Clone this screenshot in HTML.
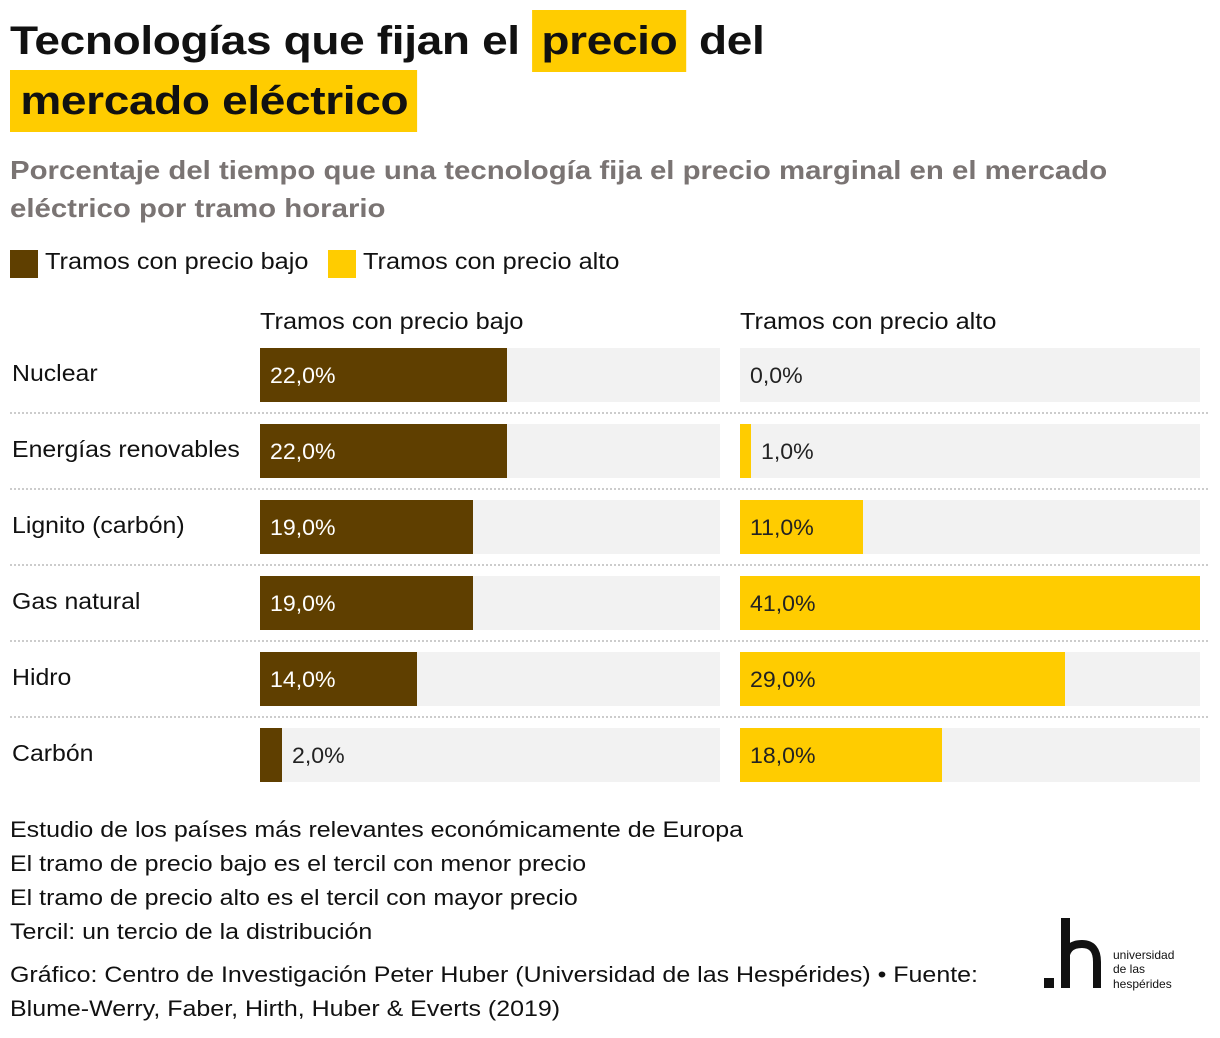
<!DOCTYPE html>
<html><head><meta charset="utf-8"><style>
body{margin:0;width:1220px;height:1038px;background:#fff;font-family:"Liberation Sans",sans-serif;color:#111;position:relative;overflow:hidden}
.a{position:absolute;white-space:nowrap;transform-origin:0 0}
.hl{background:#ffcc00;padding:0 8px;display:inline-block;line-height:62px}
.t{font-weight:bold;font-size:40px;letter-spacing:-0.3px;transform:scaleX(1.15)}
.sub{font-weight:bold;font-size:26px;color:#7a7473;line-height:38px;transform:scaleX(1.13)}
.lab{font-size:23px;transform:scaleX(1.1)}
.note{font-size:22.5px;line-height:34px;transform:scaleX(1.11)}
</style></head><body>
<div class="a t" style="left:10px;top:10px;line-height:62px">Tecnologías que fijan el <span class="hl">precio</span> del</div>
<div class="a t" style="left:10px;top:70px;line-height:62px"><span class="hl" style="padding:0 8px 0 9px">mercado eléctrico</span></div>
<div class="a sub" style="left:10px;top:151px">Porcentaje del tiempo que una tecnología fija el precio marginal en el mercado<br>eléctrico por tramo horario</div>
<div class="a" style="left:10px;top:250px;width:28px;height:28px;background:#5f3f00"></div>
<div class="a lab" style="left:45px;top:248px">Tramos con precio bajo</div>
<div class="a" style="left:328px;top:250px;width:28px;height:28px;background:#ffcc00"></div>
<div class="a lab" style="left:363px;top:248px">Tramos con precio alto</div>
<div class="a lab" style="left:260px;top:308px">Tramos con precio bajo</div>
<div class="a lab" style="left:740px;top:308px">Tramos con precio alto</div>
<div id="chart"></div>
<div class="a note" style="left:10px;top:813px">Estudio de los países más relevantes económicamente de Europa<br>El tramo de precio bajo es el tercil con menor precio<br>El tramo de precio alto es el tercil con mayor precio<br>Tercil: un tercio de la distribución</div>
<div class="a note" style="left:10px;top:958px">Gráfico: Centro de Investigación Peter Huber (Universidad de las Hespérides) • Fuente:<br>Blume-Werry, Faber, Hirth, Huber &amp; Everts (2019)</div>
<svg class="a" style="left:1030px;top:900px" width="180" height="110">
<rect x="14" y="78" width="10" height="10" fill="#111"/>
<rect x="31" y="18" width="9" height="70" fill="#111"/>
<path d="M35 62 Q35 44 52 44 Q67 44 67 62 L67 88" stroke="#111" stroke-width="8" fill="none"/>
<text x="83" y="59" font-size="12" font-family="Liberation Sans" fill="#111">universidad</text>
<text x="83" y="73" font-size="12" font-family="Liberation Sans" fill="#111">de las</text>
<text x="83" y="88" font-size="12" font-family="Liberation Sans" fill="#111">hespérides</text>
</svg>
<script>
const categories=["Nuclear","Energías renovables","Lignito (carbón)","Gas natural","Hidro","Carbón"];
const lowValues=[22,22,19,19,14,2];
const highValues=[0,1,11,41,29,18];
const maxV=41;
const root=document.getElementById('chart');
function x(v){return v/maxV*460;}
function fmt(v){return v.toFixed(1).replace('.',',')+'%';}
function mk(style,name,text){const d=document.createElement('div');d.className='a';d.style.cssText=style;if(text!==undefined)d.textContent=text;


root.appendChild(d);return d;}
categories.forEach((c,i)=>{
 const top=348+i*76;
 mk(`left:12px;top:${top+12}px;font-size:23px;transform:scaleX(1.08)`,'row-label',c);
 [[260,lowValues[i],'#5f3f00','#fff','bar-low'],[740,highValues[i],'#ffcc00','#222','bar-high']].forEach(([x0,v,col,tc,nm])=>{
  mk(`left:${x0}px;top:${top}px;width:460px;height:54px;background:#f2f2f2`,'bar-track');
  const w=x(v);
  mk(`left:${x0}px;top:${top}px;width:${w}px;height:54px;background:${col}`,nm);
  const inside=w>60;
  mk(`left:${inside?x0+10:x0+w+10}px;top:${top+15}px;font-size:22px;color:${inside?tc:'#222'};transform:scaleX(1.05)`,'value-label',fmt(v));
 });
 if(i<categories.length-1) mk(`left:10px;top:${top+64}px;width:1198px;height:0;border-top:2px dotted #ccc`,'row-separator');
});
</script>
</body></html>
